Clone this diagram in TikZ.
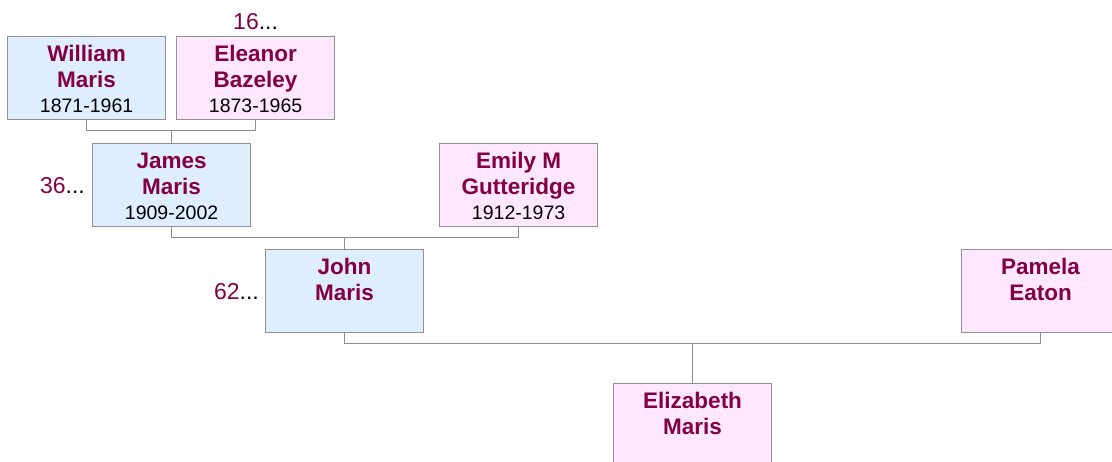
\documentclass[tikz,border=0pt]{standalone}
\usepackage{fontspec}
\setmainfont{Liberation Sans}
\usepackage{tikz}
\usetikzlibrary{positioning,calc}
\usepackage{xcolor}

\definecolor{maroon}{RGB}{130,0,68}
\definecolor{maleblue}{RGB}{222,238,255}
\definecolor{femalepink}{RGB}{255,232,255}
\definecolor{cardgray}{RGB}{145,145,145}
\definecolor{linkgray}{RGB}{140,140,140}

\newcommand{\namefont}{\fontsize{22.5}{26.3}\selectfont\bfseries\color{maroon}}
\newcommand{\yearfont}{\fontsize{19.5}{24.4}\selectfont\mdseries\color{black}}
\newcommand{\cardtext}[2]{\parbox[t][83pt][t]{158pt}{\centering\namefont\rule{0pt}{25pt}#1\par\yearfont #2}}
\newcommand{\more}[1]{\textcolor{maroon}{#1}...}

\begin{document}
\begin{tikzpicture}[
        x=1pt,y=-1pt,
        node distance=6pt,
        pers/.style={draw=cardgray,line width=1.2pt,inner sep=0pt,anchor=north west},
        male/.style={pers,fill=maleblue},
        female/.style={pers,fill=femalepink},
        link/.style={draw=linkgray,line width=1.2pt},
        tag/.style={inner sep=0pt,font=\fontsize{23}{26}\selectfont}
      ]
      \useasboundingbox (0,0) rectangle (1112,461);

      % people
      \node[male] (william) at (7,36) {\cardtext{William\\Maris}{1871-1961}};
      \node[female] (eleanor) at (176,36) {\cardtext{Eleanor\\Bazeley}{1873-1965}};
      \node[male] (james) at (92,143) {\cardtext{James\\Maris}{1909-2002}};
      \node[female] (emily) at (439,143) {\cardtext{Emily M\\Gutteridge}{1912-1973}};
      \node[male] (john) at (265,249) {\cardtext{John\\Maris}{}};
      \node[female] (pamela) at (961,249) {\cardtext{Pamela\\Eaton}{}};
      \node[female] (elizabeth) at (613,383) {\cardtext{Elizabeth\\Maris}{}};

      % more ancestors
      \node[tag,above=6pt of eleanor] (eleanormore) {\more{16}};
      \node[tag,left=7pt of james] (jamesmore) {\more{36}};
      \node[tag,left=6pt of john] (johnmore) {\more{62}};

      % family links
      \path (william.south) ++(0,10) coordinate (wmbar);
      \draw[link] (william.south) |- (wmbar) -| (eleanor.south);
      \draw[link] (james.north) -- (james.north |- wmbar);

      \path (james.south) ++(0,10) coordinate (jmbar);
      \draw[link] (james.south) |- (jmbar) -| (emily.south);
      \draw[link] (john.north) -- (john.north |- jmbar);

      \path (john.south) ++(0,10) coordinate (jnbar);
      \draw[link] (john.south) |- (jnbar) -| (pamela.south);
      \draw[link] (elizabeth.north) -- (elizabeth.north |- jnbar);
    \end{tikzpicture}
\end{document}
